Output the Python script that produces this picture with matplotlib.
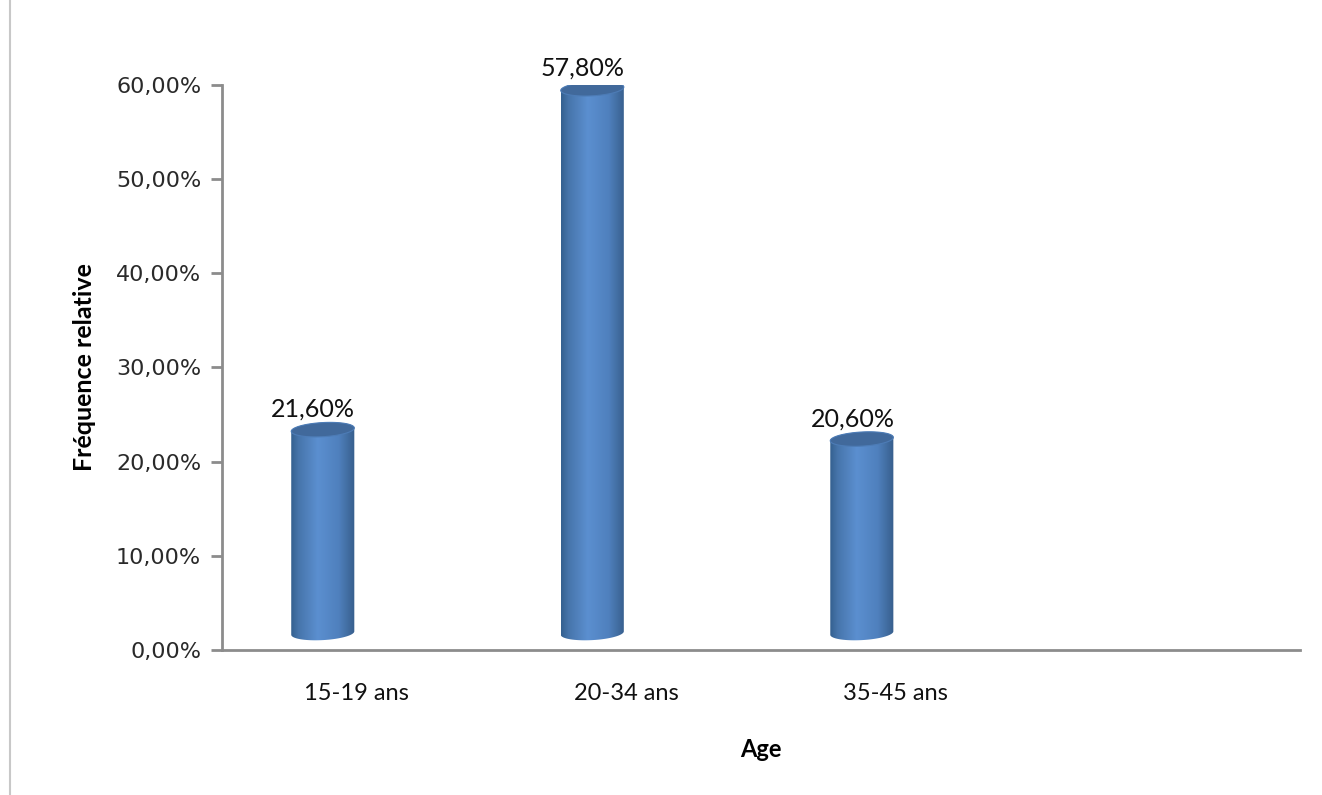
# relative frequency by age group, drawn as 3D-looking cylinders

import matplotlib.pyplot as plt
import numpy as np
from matplotlib.colors import LinearSegmentedColormap
from matplotlib.patches import Polygon
from matplotlib.lines import Line2D

categories = ["15-19 ans", "20-34 ans", "35-45 ans", ""]
values = [21.6, 57.8, 20.6]
labels = ["21,60%", "57,80%", "20,60%"]
yticks = [0, 10, 20, 30, 40, 50, 60]

fig = plt.figure(figsize=(13.22, 7.95), dpi=100)
ax = fig.add_axes([0.1679, 0.1824, 0.8155, 0.7107])
ax.set_xlim(-0.5, 3.5)
ax.set_ylim(0, 60)

# cylinder geometry in data units
shift = -0.126      # perspective shift of the bars
half_w = 0.117
depth = 1.8         # bars stand on the back floor
ell_b = 0.75
tilt = 0.18

body_cmap = LinearSegmentedColormap.from_list(
    "cyl", [(0, "#34608f"), (0.12, "#4775ab"), (0.42, "#5b8fd0"),
            (0.75, "#4f80bd"), (0.9, "#416c9f"), (1, "#375e8c")])
grad = np.linspace(0, 1, 256).reshape(1, -1)


def ellipse(cx, cy, t):
    return np.column_stack([cx + half_w * np.cos(t),
                            cy + ell_b * np.sin(t) + tilt * np.cos(t)])


for i, v in enumerate(values):
    cx = i + shift
    base = depth
    top = depth + v
    lower = ellipse(cx, base, np.linspace(np.pi, 2 * np.pi, 60))
    upper = ellipse(cx, top, np.linspace(0, np.pi, 60))
    body = Polygon(np.vstack([lower, upper]), closed=True,
                   facecolor="none", edgecolor="none")
    ax.add_patch(body)
    im = ax.imshow(grad, cmap=body_cmap, aspect="auto",
                   extent=[cx - half_w, cx + half_w, base - 2, top + 2],
                   zorder=2, interpolation="bilinear")
    im.set_clip_path(body)

    cap = Polygon(ellipse(cx, top, np.linspace(0, 2 * np.pi, 120)),
                  closed=True, facecolor="#41699b", edgecolor="#4d7cb6",
                  linewidth=0.8, zorder=3)
    ax.add_patch(cap)

    ax.text(cx - 0.035, top + ell_b + 0.2, labels[i],
            ha="center", va="bottom", fontsize=18, family="Lato",
            color="#111111")

ax.set_xlim(-0.5, 3.5)
ax.set_ylim(0, 60)

for side in ["top", "right"]:
    ax.spines[side].set_visible(False)
for side in ["left", "bottom"]:
    ax.spines[side].set_color("#8c8c8c")
    ax.spines[side].set_linewidth(2)

ax.set_yticks(yticks)
ax.set_yticklabels(["%d,00%%" % t for t in yticks], fontsize=16,
                   family="DejaVu Sans", color="#2a2a2a")
ax.tick_params(axis="y", length=8, width=2, color="#8c8c8c", pad=7)

ax.set_xticks(range(len(categories)))
ax.set_xticklabels(categories, fontsize=17, family="Lato", color="#111111")
ax.tick_params(axis="x", length=0, pad=24)

ax.set_xlabel("Age", fontsize=17, family="Lato", fontweight="bold",
              labelpad=24)
ax.set_ylabel("Fréquence relative", fontsize=18, family="Lato",
              fontweight="bold", labelpad=14)

# thin chart frame line on the left edge
fig.add_artist(Line2D([0.0075, 0.0075], [0, 1], color="#c8c8c8",
                      linewidth=1.5, transform=fig.transFigure))

fig.savefig("out.png", dpi=100)
